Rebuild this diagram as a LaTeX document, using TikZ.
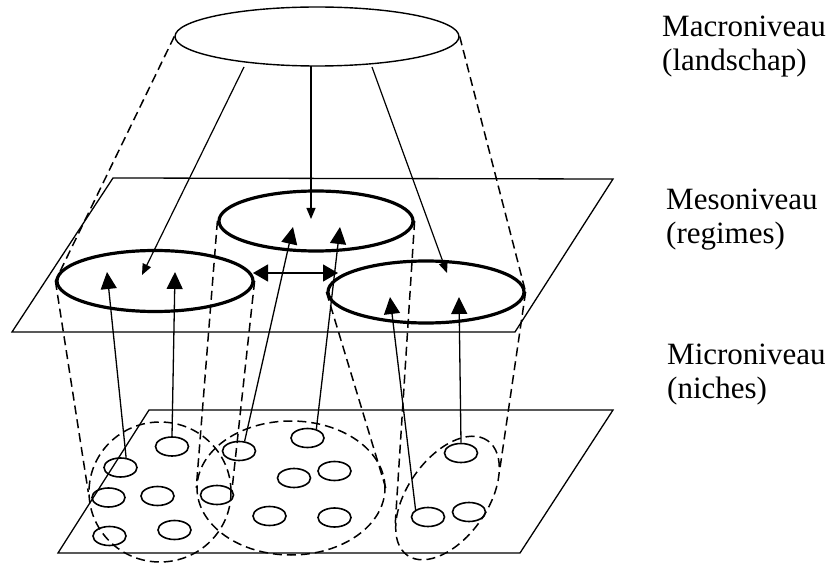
\documentclass[tikz,border=0pt]{standalone}
\usepackage{fontspec}
\setmainfont{Liberation Serif}
\usetikzlibrary{arrows.meta, shapes.geometric}

\begin{document}
\begin{tikzpicture}[x=1pt, y=-1pt]
\tikzset{plane/.style={line width=1.3pt},
		regime/.style={ellipse, draw, line width=3.2pt, inner sep=0pt, minimum width=196pt, minimum height=61pt},
		niche/.style={ellipse, draw, line width=1.6pt, inner sep=0pt, minimum width=33pt, minimum height=19pt},
		cluster/.style={ellipse, draw, dash pattern=on 9pt off 5pt, line width=1.5pt, inner sep=0pt},
		dashline/.style={dash pattern=on 9pt off 5pt, line width=1.5pt},
		uparrow/.style={line width=1.3pt, -{Triangle[length=17pt,width=16pt]}},
		downarrow/.style={line width=1.2pt, -{Triangle[length=11pt,width=9pt]}},
		lbl/.style={anchor=north west, align=left, inner sep=0pt, font=\fontsize{31}{33.5}\selectfont}}
\useasboundingbox (0,0) rectangle (828,564);

% planes
\draw[plane] (113,178) -- (613,179) -- (515,332) -- (12,332) -- cycle;
\draw[plane] (149,410) -- (613,410) -- (520,553) -- (58,553) -- cycle;

% macro, meso, micro
\node[ellipse, draw, line width=1.4pt, inner sep=0pt, minimum width=284pt, minimum height=59pt] (land) at (317,36.5) {};
\node[regime] (regL) at (155,281) {};
\node[regime, minimum width=194pt, minimum height=60pt] (regM) at (316,221) {};
\node[regime, minimum height=62pt] (regR) at (426,292) {};
\node[cluster, minimum width=142pt, minimum height=140pt] (cluL) at (160,492) {};
\node[cluster, minimum width=188pt, minimum height=134pt] (cluM) at (291,488) {};
\node[cluster, minimum width=140pt, minimum height=80pt, rotate=55] (cluR) at (447.5,498) {};
\foreach \n/\x/\y in {1/172/446.5, 2/120.5/467.5, 3/108.5/497.5, 4/157.5/496, 5/109.5/536, 6/174.5/530,
		7/217/495, 8/239/451, 9/307.5/438, 10/294/478, 11/334.5/471, 12/269.5/516, 13/334.5/517.5,
		14/461/453, 15/469/512, 16/428/517}
	\node[niche] (n\n) at (\x,\y) {};

% labels
\node[lbl] (macro) at (662,15.8) {Macroniveau\\(landschap)};
\node[lbl] (meso) at (666,188.8) {Mesoniveau\\(regimes)};
\node[lbl] (micro) at (667,343.8) {Microniveau\\(niches)};

% dashed links
\draw[dashline] (land.west) -- (regL.west);
\draw[dashline] (land.east) -- (regR.east);
\draw[dashline] (regL.west) -- (cluL.west);
\draw[dashline] (regL.east) -- (cluL.east);
\draw[dashline] (regM.west) -- (cluM.west);
\draw[dashline] (regM.east) -- (cluR.155);
\draw[dashline] (regR.west) -- (cluM.east);
\draw[dashline] (regR.east) -- (cluR.-25);

% top-down arrows
\coordinate (sL) at (244,67);
\coordinate (sM) at (311,66);
\coordinate (sR) at (372,67);
\coordinate (qL) at (142,275);
\coordinate (qM) at (311,219);
\coordinate (qR) at (447,273);
\draw[downarrow] (sL) -- (qL);
\draw[downarrow] (sM) -- (qM);
\draw[downarrow] (sR) -- (qR);

% bottom-up arrows
\coordinate (pL1) at (107,272);
\coordinate (pL2) at (175,272);
\coordinate (pM1) at (293,227);
\coordinate (pM2) at (340,227);
\coordinate (pR1) at (390,297);
\coordinate (pR2) at (459,297);
\draw[uparrow] (n2.60) -- (pL1);
\draw[uparrow] (n1.north) -- (pL2);
\draw[uparrow] (n8.60) -- (pM1);
\draw[uparrow] (n9.45) -- (pM2);
\draw[uparrow] (n16.150) -- (pR1);
\draw[uparrow] (n14.north) -- (pR2);

% between regimes
\coordinate (dL) at (253,273);
\coordinate (dR) at (338,273);
\draw[line width=1.3pt, {Triangle[length=15pt,width=17pt]}-{Triangle[length=15pt,width=17pt]}] (dL) -- (dR);
\end{tikzpicture}
\end{document}
